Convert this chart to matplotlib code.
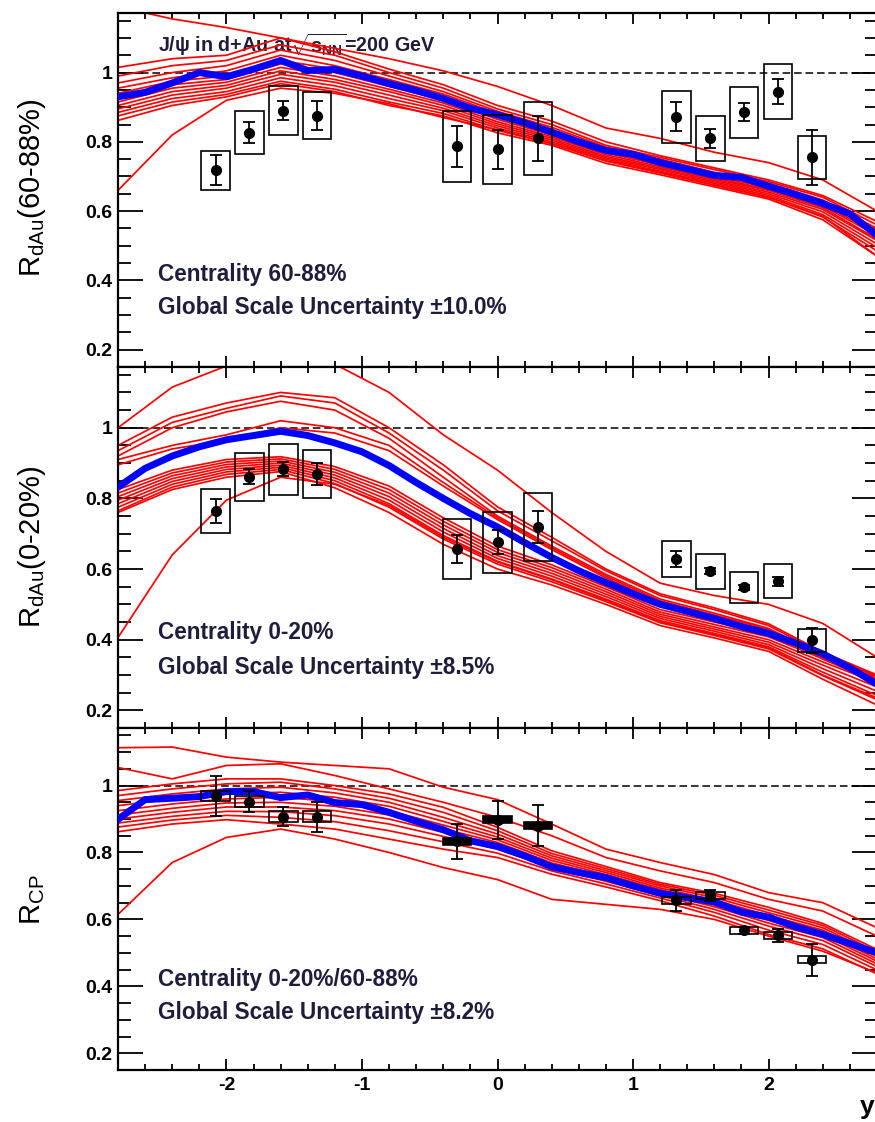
import matplotlib
matplotlib.use('Agg')
import matplotlib.pyplot as plt
from matplotlib.patches import Rectangle
from matplotlib.ticker import MultipleLocator, FuncFormatter

plt.rcParams['font.family'] = ['Liberation Sans', 'DejaVu Sans']
plt.rcParams['mathtext.fontset'] = 'custom'
plt.rcParams['mathtext.rm'] = 'Liberation Sans'
plt.rcParams['mathtext.bf'] = 'Liberation Sans:bold'
plt.rcParams['mathtext.it'] = 'Liberation Sans:italic'
plt.rcParams['mathtext.sf'] = 'Liberation Sans'
plt.rcParams['axes.unicode_minus'] = False

# ---------------- model curves ----------------
x_blue = [-2.8, -2.6, -2.4, -2.2, -2.0, -1.8, -1.6, -1.4, -1.2, -1.0, -0.8, -0.6, -0.4, -0.2,
          0.0, 0.2, 0.4, 0.6, 0.8, 1.0, 1.2, 1.4, 1.6, 1.8, 2.0, 2.2, 2.4, 2.6, 2.8]
x_red = [-2.8, -2.4, -2.0, -1.6, -1.2, -0.8, -0.4, 0.0, 0.4, 0.8, 1.2, 1.6, 2.0, 2.4, 2.8]

top_blue = [0.93, 0.943, 0.97, 1.0, 0.988, 1.01, 1.035, 1.006, 1.009, 0.99, 0.968, 0.948, 0.925, 0.897,
            0.878, 0.855, 0.828, 0.80, 0.775, 0.764, 0.74, 0.722, 0.703, 0.697, 0.672, 0.648, 0.622, 0.592, 0.53]
mid_blue = [0.832, 0.885, 0.92, 0.946, 0.966, 0.978, 0.99, 0.978, 0.957, 0.932, 0.893, 0.845, 0.80, 0.757,
            0.719, 0.675, 0.633, 0.595, 0.562, 0.53, 0.50, 0.48, 0.46, 0.437, 0.418, 0.39, 0.36, 0.32, 0.274]
bot_blue = [0.899, 0.958, 0.962, 0.967, 0.982, 0.982, 0.964, 0.972, 0.949, 0.943, 0.92, 0.893, 0.868, 0.835,
            0.818, 0.79, 0.757, 0.74, 0.725, 0.70, 0.678, 0.665, 0.652, 0.622, 0.607, 0.578, 0.555, 0.528, 0.50]

top_red = [
    [1.015, 1.04, 1.05, 1.10, 1.06, 1.01, 0.965, 0.905, 0.86, 0.80, 0.76, 0.725, 0.69, 0.645, 0.57],
    [0.99, 1.02, 1.035, 1.08, 1.05, 1.00, 0.955, 0.895, 0.85, 0.79, 0.755, 0.72, 0.685, 0.64, 0.56],
    [0.97, 1.0, 1.02, 1.065, 1.035, 0.99, 0.945, 0.888, 0.842, 0.785, 0.75, 0.712, 0.68, 0.632, 0.55],
    [0.955, 0.985, 1.005, 1.05, 1.02, 0.98, 0.938, 0.882, 0.835, 0.78, 0.745, 0.708, 0.675, 0.627, 0.545],
    [0.94, 0.975, 0.99, 1.035, 1.01, 0.97, 0.93, 0.872, 0.826, 0.772, 0.738, 0.70, 0.668, 0.62, 0.535],
    [0.925, 0.965, 0.98, 1.025, 1.0, 0.96, 0.92, 0.865, 0.82, 0.768, 0.733, 0.696, 0.663, 0.615, 0.53],
    [0.915, 0.955, 0.972, 1.015, 0.99, 0.952, 0.912, 0.858, 0.815, 0.763, 0.728, 0.692, 0.66, 0.61, 0.52],
    [0.905, 0.945, 0.963, 1.005, 0.98, 0.945, 0.905, 0.852, 0.81, 0.758, 0.724, 0.688, 0.655, 0.605, 0.515],
    [0.895, 0.935, 0.955, 0.995, 0.972, 0.935, 0.897, 0.846, 0.805, 0.754, 0.72, 0.684, 0.65, 0.598, 0.505],
    [0.885, 0.925, 0.945, 0.985, 0.962, 0.925, 0.89, 0.84, 0.80, 0.75, 0.715, 0.68, 0.645, 0.59, 0.495],
    [0.875, 0.915, 0.937, 0.975, 0.952, 0.915, 0.882, 0.833, 0.795, 0.745, 0.71, 0.675, 0.64, 0.583, 0.485],
    [0.862, 0.905, 0.93, 0.968, 0.945, 0.905, 0.875, 0.826, 0.79, 0.738, 0.705, 0.67, 0.635, 0.575, 0.47],
    [1.19, 1.155, 1.13, 1.10, 1.07, 1.04, 1.005, 0.96, 0.905, 0.84, 0.81, 0.77, 0.74, 0.69, 0.60],
    [0.66, 0.82, 0.92, 0.955, 0.94, 0.91, 0.87, 0.835, 0.795, 0.745, 0.712, 0.675, 0.64, 0.585, 0.47],
]
mid_red = [
    [0.95, 1.03, 1.07, 1.10, 1.085, 1.0, 0.895, 0.776, 0.69, 0.60, 0.53, 0.49, 0.445, 0.365, 0.30],
    [0.935, 1.015, 1.055, 1.09, 1.07, 0.985, 0.88, 0.765, 0.68, 0.595, 0.525, 0.485, 0.44, 0.36, 0.295],
    [0.92, 1.0, 1.045, 1.075, 1.05, 0.97, 0.86, 0.75, 0.665, 0.585, 0.515, 0.475, 0.432, 0.355, 0.29],
    [0.91, 0.95, 0.98, 1.02, 1.0, 0.95, 0.845, 0.745, 0.66, 0.58, 0.51, 0.47, 0.43, 0.35, 0.285],
    [0.895, 0.94, 0.965, 1.0, 0.985, 0.935, 0.835, 0.74, 0.655, 0.575, 0.505, 0.466, 0.425, 0.345, 0.28],
    [0.825, 0.88, 0.91, 0.918, 0.89, 0.835, 0.745, 0.665, 0.612, 0.55, 0.485, 0.45, 0.415, 0.355, 0.30],
    [0.815, 0.872, 0.903, 0.912, 0.882, 0.825, 0.735, 0.655, 0.604, 0.543, 0.478, 0.443, 0.408, 0.346, 0.29],
    [0.805, 0.864, 0.896, 0.906, 0.874, 0.815, 0.725, 0.647, 0.596, 0.536, 0.472, 0.436, 0.40, 0.337, 0.278],
    [0.795, 0.856, 0.889, 0.90, 0.866, 0.805, 0.715, 0.638, 0.588, 0.529, 0.466, 0.43, 0.393, 0.328, 0.266],
    [0.785, 0.848, 0.882, 0.894, 0.858, 0.795, 0.705, 0.63, 0.58, 0.522, 0.46, 0.424, 0.386, 0.318, 0.254],
    [0.775, 0.84, 0.875, 0.888, 0.85, 0.785, 0.695, 0.622, 0.572, 0.515, 0.454, 0.418, 0.38, 0.308, 0.242],
    [0.765, 0.832, 0.868, 0.882, 0.842, 0.775, 0.685, 0.614, 0.564, 0.508, 0.448, 0.412, 0.374, 0.298, 0.23],
    [0.76, 0.825, 0.86, 0.876, 0.83, 0.76, 0.67, 0.60, 0.555, 0.50, 0.44, 0.405, 0.367, 0.288, 0.215],
    [1.0, 1.115, 1.175, 1.185, 1.18, 1.10, 0.98, 0.88, 0.76, 0.65, 0.56, 0.525, 0.50, 0.446, 0.35],
    [0.406, 0.64, 0.795, 0.86, 0.84, 0.78, 0.69, 0.62, 0.57, 0.512, 0.45, 0.415, 0.377, 0.30, 0.235],
]
bot_red = [
    [0.985, 1.005, 1.02, 1.02, 1.0, 0.975, 0.935, 0.875, 0.805, 0.758, 0.71, 0.678, 0.636, 0.588, 0.51],
    [0.97, 0.99, 1.005, 1.01, 0.99, 0.962, 0.92, 0.865, 0.797, 0.752, 0.705, 0.672, 0.628, 0.582, 0.503],
    [0.955, 0.975, 0.99, 0.995, 0.978, 0.95, 0.905, 0.855, 0.79, 0.746, 0.70, 0.665, 0.62, 0.575, 0.496],
    [0.94, 0.96, 0.975, 0.98, 0.965, 0.938, 0.893, 0.846, 0.783, 0.74, 0.694, 0.658, 0.612, 0.568, 0.489],
    [0.925, 0.945, 0.96, 0.965, 0.952, 0.925, 0.882, 0.838, 0.776, 0.734, 0.689, 0.652, 0.604, 0.561, 0.482],
    [0.912, 0.932, 0.948, 0.95, 0.938, 0.912, 0.871, 0.83, 0.769, 0.728, 0.683, 0.645, 0.597, 0.554, 0.475],
    [0.90, 0.92, 0.936, 0.936, 0.925, 0.90, 0.86, 0.82, 0.762, 0.721, 0.677, 0.638, 0.589, 0.546, 0.467],
    [0.888, 0.908, 0.923, 0.922, 0.91, 0.885, 0.848, 0.81, 0.754, 0.714, 0.671, 0.63, 0.58, 0.537, 0.459],
    [0.876, 0.897, 0.911, 0.905, 0.892, 0.865, 0.832, 0.798, 0.745, 0.706, 0.664, 0.621, 0.568, 0.525, 0.449],
    [0.862, 0.885, 0.898, 0.885, 0.87, 0.84, 0.81, 0.785, 0.735, 0.697, 0.656, 0.61, 0.555, 0.512, 0.437],
    [1.113, 1.115, 1.085, 1.07, 1.06, 1.05, 0.995, 0.958, 0.885, 0.81, 0.77, 0.734, 0.68, 0.65, 0.575],
    [1.054, 1.02, 1.06, 1.065, 1.03, 0.99, 0.95, 0.905, 0.85, 0.785, 0.745, 0.71, 0.66, 0.625, 0.55],
    [0.615, 0.77, 0.845, 0.87, 0.84, 0.80, 0.755, 0.719, 0.66, 0.645, 0.63, 0.60, 0.55, 0.505, 0.44],
]

# ---------------- data points ----------------
pt_x = [-2.08, -1.83, -1.58, -1.33, -0.30, 0.00, 0.30, 1.32, 1.57, 1.82, 2.07, 2.32]
top_y = [0.718, 0.827, 0.89, 0.876, 0.787, 0.778, 0.81, 0.873, 0.81, 0.885, 0.945, 0.755]
top_stat = [0.043, 0.03, 0.027, 0.043, 0.06, 0.057, 0.065, 0.043, 0.027, 0.026, 0.037, 0.08]
top_sys = [0.056, 0.062, 0.07, 0.067, 0.103, 0.10, 0.105, 0.075, 0.065, 0.074, 0.08, 0.063]
mid_y = [0.764, 0.861, 0.883, 0.869, 0.656, 0.676, 0.719, 0.628, 0.594, 0.548, 0.565, 0.398]
mid_stat = [0.035, 0.021, 0.02, 0.032, 0.04, 0.034, 0.045, 0.023, 0.008, 0.008, 0.012, 0.035]
mid_sys = [0.063, 0.068, 0.072, 0.068, 0.085, 0.086, 0.095, 0.051, 0.05, 0.045, 0.048, 0.033]
bot_y = [0.97, 0.952, 0.907, 0.907, 0.833, 0.898, 0.88, 0.657, 0.672, 0.567, 0.552, 0.48]
bot_stat = [0.06, 0.032, 0.028, 0.045, 0.053, 0.057, 0.062, 0.031, 0.016, 0.01, 0.02, 0.048]
bot_sys = [0.015, 0.016, 0.016, 0.016, 0.011, 0.01, 0.01, 0.011, 0.011, 0.01, 0.011, 0.011]
bot_box_filled = [False, False, False, False, True, True, True, False, False, False, False, False]

ylabels = [r'R$_{\mathrm{dAu}}$(60-88%)', r'R$_{\mathrm{dAu}}$(0-20%)', r'R$_{\mathrm{CP}}$']
cent_text = ['Centrality 60-88%', 'Centrality 0-20%', 'Centrality 0-20%/60-88%']
scale_text = ['Global Scale Uncertainty \u00b110.0%', 'Global Scale Uncertainty \u00b18.5%',
              'Global Scale Uncertainty \u00b18.2%']
x_ticks = [-2, -1, 0, 1, 2]
y_ticks = [0.2, 0.4, 0.6, 0.8, 1.0]

# ---------------- figure ----------------
W, H = 875, 1122
fig = plt.figure(figsize=(W / 100, H / 100), dpi=100)

left_px, right_px = 118, 877
panel_px = [(13, 367), (367, 728), (728, 1070)]
label_y_px = [188, 547, 900]
txt_color = '#1e1e3c'

panels = [
    (top_blue, top_red, top_y, top_stat, top_sys, [False] * 12),
    (mid_blue, mid_red, mid_y, mid_stat, mid_sys, [False] * 12),
    (bot_blue, bot_red, bot_y, bot_stat, bot_sys, bot_box_filled),
]

box_hw = 0.105
for i, (blue, reds, yv, stat, sys_, filled) in enumerate(panels):
    t, b = panel_px[i]
    ax = fig.add_axes([left_px / W, 1 - b / H, (right_px - left_px) / W, (b - t) / H])
    ax.set_xlim(-2.8, 2.8)
    ax.set_ylim(0.15, 1.172)

    ax.axhline(1.0, color='black', lw=1.1, ls=(0, (5, 2.5)), zorder=1.5)
    for r in reds:
        ax.plot(x_red, r, color='#ff0000', lw=1.25, zorder=2)
    ax.plot(x_blue, blue, color='#0000ff', lw=5, zorder=3, solid_joinstyle='round')

    for xx, yy, ss, ff in zip(pt_x, yv, sys_, filled):
        ax.add_patch(Rectangle((xx - box_hw, yy - ss), 2 * box_hw, 2 * ss,
                               facecolor='black' if ff else 'none', edgecolor='black',
                               lw=1.2, zorder=4))
    ax.errorbar(pt_x, yv, yerr=stat, fmt='o', color='black', ms=7, capsize=4,
                elinewidth=1.3, capthick=1.3, zorder=5)

    ax.text(0.053, 0.265 if i else 0.26, cent_text[i], transform=ax.transAxes, fontsize=16.3,
            fontweight='bold', color=txt_color, va='center', zorder=1)
    ax.text(0.053, 0.168, scale_text[i], transform=ax.transAxes, fontsize=16.3,
            fontweight='bold', color=txt_color, va='center', zorder=1)

    ax.set_xticks(x_ticks)
    ax.xaxis.set_minor_locator(MultipleLocator(0.2))
    ax.set_yticks(y_ticks)
    ax.yaxis.set_minor_locator(MultipleLocator(0.05))
    ax.yaxis.set_major_formatter(FuncFormatter(lambda v, p: '1' if abs(v - 1) < 1e-6 else f'{v:.1f}'))
    ax.xaxis.set_major_formatter(FuncFormatter(lambda v, p: f'{int(round(v))}'))
    ax.tick_params(axis='both', which='both', direction='in', top=True, right=True,
                   labelsize=14, width=1.3, colors='black')
    ax.tick_params(axis='y', which='major', length=18, pad=4)
    ax.tick_params(axis='y', which='minor', length=9)
    ax.tick_params(axis='x', which='major', length=8, pad=5)
    ax.tick_params(axis='x', which='minor', length=4)
    for lab in ax.get_yticklabels() + ax.get_xticklabels():
        lab.set_fontweight('bold')
    if i < 2:
        ax.tick_params(axis='x', labelbottom=False)
    for s in ax.spines.values():
        s.set_linewidth(1.6)

    fig.text(0.037, 1 - label_y_px[i] / H, ylabels[i], rotation=90, fontsize=21,
             ha='center', va='center', color='black')

    if i == 0:
        ax.text(0.053, 0.91, 'J/\u03c8 in d+Au at' + r'$\sqrt{\mathbf{s}_{\mathbf{NN}}}$' + '=200 GeV',
                transform=ax.transAxes, fontsize=14.2, fontweight='bold', color=txt_color,
                va='center', zorder=1)

fig.text(867 / W, 1 - 1107 / H, 'y', fontsize=19, fontweight='bold', ha='center', va='center')

fig.savefig('out.png', dpi=100)
